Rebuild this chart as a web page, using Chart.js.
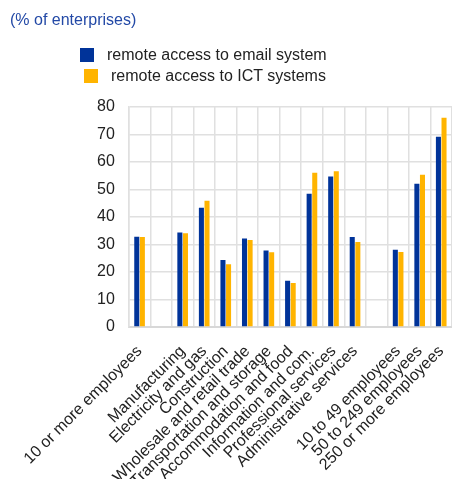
<!DOCTYPE html>
<html>
<head>
<meta charset="utf-8">
<script src="https://cdn.jsdelivr.net/npm/chart.js@4/dist/chart.umd.min.js"></script>
<style>
    body { margin: 0; background: #fff; font-family: "Liberation Sans", Arial, sans-serif; }
    #wrap { position: relative; width: 452px; height: 479px; overflow: hidden; }
    #chart { position: absolute; left: 0; top: 0; }
    #title { position: absolute; left: 10px; top: 11px; font-size: 16px; color: #2349a6; }
    .legend-item { position: absolute; font-size: 16px; color: #222; white-space: nowrap; }
    .legend-box { position: absolute; width: 14px; height: 14px; }
</style>
</head>
<body>
<div id="wrap">
    <canvas id="chart" width="452" height="479"></canvas>
    <div id="title">(% of enterprises)</div>
    <div id="legend"></div>
</div>
<script>
var categories = [
    "10 or more employees", "",
    "Manufacturing", "Electricity and gas", "Construction",
    "Wholesale and retail trade", "Transportation and storage",
    "Accommodation and food", "Information and com.",
    "Professional services", "Administrative services", "",
    "10 to 49 employees", "50 to 249 employees", "250 or more employees"
];
var seriesNames = ["remote access to email system", "remote access to ICT systems"];
var emailValues = [32.8, null, 34.4, 43.4, 24.4, 32.2, 27.8, 16.8, 48.5, 54.7, 32.7, null, 28.1, 52.1, 69.2];
var ictValues = [32.7, null, 34.1, 45.9, 22.8, 31.6, 27.2, 16.0, 56.1, 56.6, 30.9, null, 27.3, 55.4, 76.1];
var yTicks = [0, 10, 20, 30, 40, 50, 60, 70, 80];

var colors = ['#003399', '#ffb400'];

// legend drawn as html, stacked like the original
var legendEl = document.getElementById('legend');
var legendPos = [{ x: 80, y: 48 }, { x: 84, y: 69 }];
seriesNames.forEach(function(name, i) {
    var box = document.createElement('div');
    box.className = 'legend-box';
    box.style.left = legendPos[i].x + 'px';
    box.style.top = legendPos[i].y + 'px';
    box.style.background = colors[i];
    legendEl.appendChild(box);
    var txt = document.createElement('div');
    txt.className = 'legend-item';
    txt.style.left = (legendPos[i].x + 27) + 'px';
    txt.style.top = (legendPos[i].y - 2) + 'px';
    txt.textContent = name;
    legendEl.appendChild(txt);
});

var ctx = document.getElementById('chart').getContext('2d');
var chart = new Chart(ctx, {
    type: 'bar',
    data: {
        labels: categories,
        datasets: [{
            label: seriesNames[0],
            data: emailValues,
            backgroundColor: colors[0]
        }, {
            label: seriesNames[1],
            data: ictValues,
            backgroundColor: colors[1]
        }]
    },
    options: {
        responsive: false,
        animation: false,
        datasets: {
            bar: { categoryPercentage: 0.52, barPercentage: 0.9 }
        },
        layout: {
            padding: { top: 107, left: 83, right: 0, bottom: 0 }
        },
        plugins: {
            legend: { display: false },
            title: { display: false },
            tooltip: { enabled: false }
        },
        scales: {
            x: {
                // labels run off the bottom edge in the original, so fix the axis height
                afterFit: function(axis) {
                    axis.height = 152;
                    axis.paddingLeft = 0;
                    axis.paddingRight = 0;
                },
                grid: { color: '#e0e0e0', lineWidth: 1.5, drawTicks: false },
                border: { color: '#d8d8d8', width: 2 },
                ticks: {
                    color: '#222',
                    font: { family: 'Liberation Sans', size: 16 },
                    maxRotation: 45,
                    minRotation: 45,
                    autoSkip: false,
                    padding: 15
                }
            },
            y: {
                min: 0,
                max: 80,
                afterBuildTicks: function(axis) {
                    axis.ticks = yTicks.map(function(v) { return { value: v }; });
                },
                grid: { color: '#e0e0e0', lineWidth: 1.5, drawTicks: false },
                border: { color: '#e0e0e0', width: 1.5 },
                ticks: {
                    color: '#222',
                    font: { family: 'Liberation Sans', size: 16 },
                    padding: 14
                }
            }
        }
    }
});
</script>
</body>
</html>
